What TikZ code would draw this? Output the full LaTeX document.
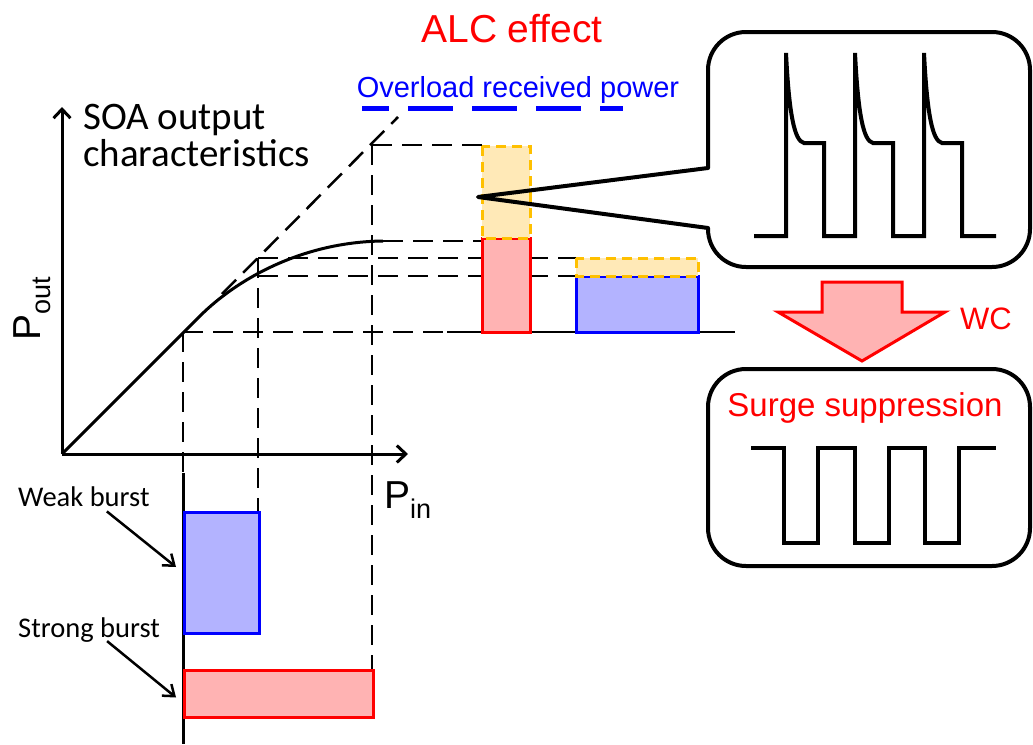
\documentclass[tikz,border=0pt]{standalone}
\usepackage{fontspec}
\setmainfont{Liberation Sans}
\newfontfamily\calibri{Carlito}
\usepackage{tikz}
\usetikzlibrary{arrows.meta, calc}

\definecolor{pinkfill}{RGB}{255,179,179}
\definecolor{lilac}{RGB}{179,179,255}
\definecolor{cream}{RGB}{255,233,183}
\definecolor{amber}{RGB}{255,192,0}
\newcommand{\fs}[1]{\fontsize{#1}{#1}\selectfont}

\begin{document}
\begin{tikzpicture}[x=1pt, y=-1pt,
  axis/.style={line width=3, -{Straight Barb[length=9pt,width=17pt]}},
  guide/.style={line width=2.5, dash pattern=on 20pt off 10pt},
  redbar/.style={draw=red, fill=pinkfill, line width=3},
  bluebar/.style={draw=blue, fill=lilac, line width=3},
  overbar/.style={draw=amber, fill=cream, line width=3, dash pattern=on 10pt off 6pt},
  pointer/.style={line width=2.5, -{Straight Barb[length=10pt,width=15pt]}},
  wave/.style={line width=4, line join=miter}]
  \useasboundingbox (0,0) rectangle (1033,744);
  \coordinate (O) at (62,454);

  % Axes
  \draw[axis] (O) -- (62,107);
  \draw[axis] (O) -- (408,454);
  \node[rotate=90, anchor=base west, inner sep=0, font=\fs{39}] (pout) at (40,341) {P\raisebox{-10pt}{\fs{27}out}};
  \node[anchor=base west, inner sep=0, font=\fs{39}] (pin) at (384,508) {P\raisebox{-10pt}{\fs{27}in}};
  \node[anchor=north west, inner sep=0, align=left, font=\calibri\fontsize{39}{37}\selectfont] (soa) at (83,104) {SOA output\\characteristics};

  % SOA characteristic and linear extension
  \draw[line width=3] (O) -- (200,316) .. controls (235,281) and (300,242) .. (383,241);
  \draw[guide] (222,294) -- (398,117);

  % Projection lines
  \draw[guide] (183,332) -- (447,332);
  \draw[guide] (183,332) -- (183,473);
  \draw[line width=3] (183,473) -- (183,744);
  \draw[guide] (258,258) -- (576,258);
  \draw[guide] (258,276) -- (576,276);
  \draw[guide] (258,258) -- (258,511);
  \draw[guide] (372,145) -- (482,145);
  \draw[guide] (372,145) -- (372,669);
  \draw[guide] (383,241) -- (482,241);
  \draw[line width=2.5] (447,332) -- (735,332);

  % Output bars
  \draw[redbar] (482,238) rectangle (530,332);
  \draw[bluebar] (576,276) rectangle (698,332);
  \draw[overbar] (576,258) rectangle (698,276);
  \draw[overbar] (482,146) rectangle (530,238);

  % Zoom bubble (surge waveform)
  \draw[line width=4, rounded corners=38] (708,168) -- (708,32) -- (1030,32) -- (1030,267) -- (708,267) -- (708,228);
  \draw[line width=4, line join=round, line cap=round] (708,168) -- (478,197) -- (708,228);
  \draw[wave] (754,236) \foreach \o in {0,69,138} {
      -- ({786+\o},236) -- ({786+\o},53)
      .. controls ({789+\o},112) and ({794+\o},141) .. ({804+\o},143)
      -- ({824+\o},143) -- ({824+\o},236)} -- (996,236);

  % Titles
  \node[anchor=base, text=red, font=\fs{39}] (alc) at (512,42) {ALC effect};
  \node[anchor=base, text=blue, font=\fs{29}] (overload) at (518,97) {Overload received power};
  \draw[blue, line width=5, dash pattern=on 45pt off 19pt, dash phase=18pt] (362,108) -- (623,108);

  % WC arrow
  \draw[draw=red, fill=pinkfill, line width=3] (822,282) -- (902,282) -- (902,312) -- (945,312)
    -- (862,361) -- (778,312) -- (822,312) -- cycle;
  \node[anchor=base, text=red, font=\fs{31}] (wc) at (986,329) {WC};

  % Suppressed waveform
  \draw[line width=4, rounded corners=38] (708,369) rectangle (1030,566);
  \node[anchor=base, text=red, font=\fs{33}] (surge) at (865,416) {Surge suppression};
  \draw[wave] (751,448) \foreach \o in {0,71,141} {
      -- ({784+\o},448) -- ({784+\o},543) -- ({818+\o},543) -- ({818+\o},448)} -- (996,448);

  % Input bursts
  \node[bluebar, anchor=north west, minimum width=75, minimum height=121] (weakbar) at (183,511) {};
  \node[redbar, anchor=north west, minimum width=189, minimum height=47] (strongbar) at (183,669) {};
  \node[anchor=base west, inner sep=0, font=\calibri\fs{28.5}] (weak) at (18,506) {Weak burst};
  \node[anchor=base west, inner sep=0, font=\calibri\fs{28.5}] (strong) at (18,637) {Strong burst};
  \draw[pointer] ($(weak.south)+(23,5)$) -- ($(weakbar.west)+(-7,-6)$);
  \draw[pointer] ($(strong.south)+(18,-1)$) -- ($(strongbar.west)+(-7,3.5)$);

\end{tikzpicture}
\end{document}
